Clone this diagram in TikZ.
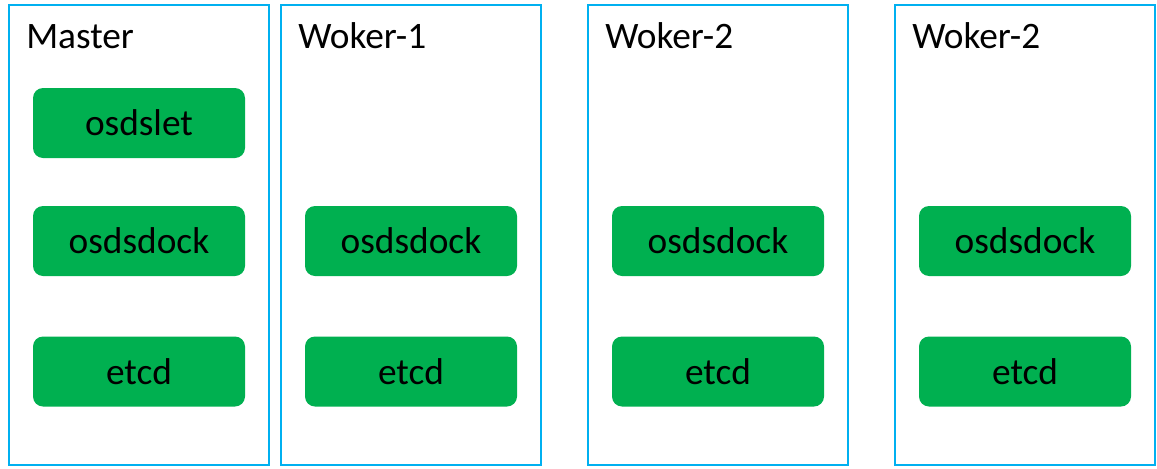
\documentclass[tikz,border=0pt]{standalone}
\usepackage{fontspec}
\setmainfont{Carlito}
\definecolor{frameblue}{HTML}{00B0F0}
\definecolor{boxgreen}{HTML}{00B050}
\begin{document}
\begin{tikzpicture}[x=0.75pt,y=-0.75pt,
  container/.style={draw=frameblue,line width=1.5pt,minimum width=195pt,minimum height=345pt,inner sep=0pt},
  svc/.style={fill=boxgreen,rounded corners=7.5pt,minimum width=159pt,minimum height=52.5pt,inner sep=0pt,font=\fontsize{28}{33}\selectfont},
  title/.style={anchor=base west,inner sep=0pt,font=\fontsize{28}{33}\selectfont}]
\useasboundingbox (0,0) rectangle (1157,468);
\node[container] (m) at (139,235) {};
\node[container] (w1) at (411,235) {};
\node[container] (w2) at (718,235) {};
\node[container] (w3) at (1025,235) {};
\node[title] (tm) at (26,48) {Master};
\node[title] (tw1) at (298,48) {Woker-1};
\node[title] (tw2) at (605,48) {Woker-2};
\node[title] (tw3) at (912,48) {Woker-2};
\node[svc] (mlet) at (139,123) {osdslet};
\node[svc] (mdock) at (139,241) {osdsdock};
\node[svc] (metcd) at (139,371.5) {etcd};
\node[svc] (w1dock) at (411,241) {osdsdock};
\node[svc] (w1etcd) at (411,371.5) {etcd};
\node[svc] (w2dock) at (718,241) {osdsdock};
\node[svc] (w2etcd) at (718,371.5) {etcd};
\node[svc] (w3dock) at (1025,241) {osdsdock};
\node[svc] (w3etcd) at (1025,371.5) {etcd};
\end{tikzpicture}
\end{document}
